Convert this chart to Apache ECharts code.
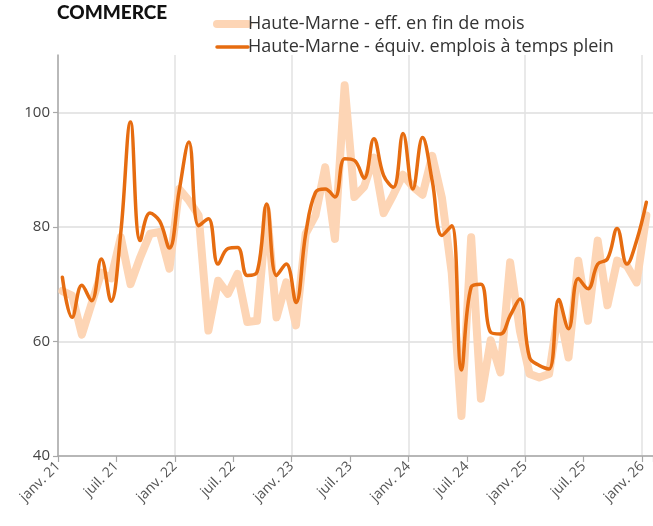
<!DOCTYPE html>
<html>
<head>
<meta charset="utf-8">
<script src="https://cdn.jsdelivr.net/npm/echarts@6/dist/echarts.min.js"></script>
<style>
html,body{margin:0;padding:0;background:#fff;}
#chart{width:653px;height:526px;}
</style>
</head>
<body>
<div id="chart"></div>
<script>
// Tick labels every 6 months (janv. 21 ... janv. 26)
const tickLabels = ['janv. 21','juil. 21','janv. 22','juil. 22','janv. 23','juil. 23','janv. 24','juil. 24','janv. 25','juil. 25','janv. 26'];
// Y tick values
const yTicks = [40, 60, 80, 100];
// Monthly values from janv. 2021 to janv. 2026 (61 months)
const seriesNames = ['Haute-Marne - eff. en fin de mois', 'Haute-Marne - équiv. emplois à temps plein'];
const effectifs = [68.8,68.0,61.2,66.6,72.0,71.0,78.2,70.0,74.7,78.8,79.1,72.7,86.6,84.6,82.0,61.9,70.6,68.3,71.8,63.4,63.6,83.0,64.2,70.3,62.8,78.8,82.0,90.4,77.9,104.7,85.2,87.0,92.1,82.4,85.6,89.1,87.0,85.6,92.4,85.0,72.0,47.0,78.2,50.0,60.2,54.6,73.8,61.9,54.3,53.7,54.3,65.7,57.2,74.1,63.6,77.6,66.3,74.1,73.2,70.3,82.0];
const equivTP = [71.2,64.2,69.8,67.1,74.4,67.0,79.0,98.3,77.6,82.4,81.0,76.3,86.3,94.8,80.2,81.4,73.5,76.2,76.4,71.5,72.1,84.0,71.5,73.5,66.8,78.8,86.0,86.6,85.2,91.9,91.6,88.5,95.4,89.0,86.9,96.3,86.6,95.6,88.0,78.5,80.2,55.0,69.5,70.0,61.6,61.3,64.5,67.4,57.2,55.8,55.2,67.3,62.2,71.0,69.2,73.5,74.4,79.7,73.5,77.6,84.3];

// month index (from 1 Jan 2021), values placed mid-month
const toPoints = arr => arr.map((v, i) => [i + 0.45, v]);

const FONT = 'Open Sans';
const chart = echarts.init(document.getElementById('chart'), null, {renderer: 'canvas'});
chart.setOption({
  animation: false,
  backgroundColor: '#fff',
  title: {
    text: 'COMMERCE',
    left: 57, top: 3, padding: 0,
    textStyle: {fontFamily: 'Lato', fontWeight: 900, fontSize: 19, color: '#111'}
  },
  legend: {
    orient: 'vertical',
    left: 213, top: 14, padding: 0,
    itemWidth: 31, itemHeight: 14, itemGap: 3,
    itemStyle: {opacity: 0},
    textStyle: {fontFamily: FONT, fontSize: 18, color: '#333', lineHeight: 20, padding: [0, 0, 0, -5]},
    data: [
      {name: seriesNames[0], lineStyle: {width: 8, cap: 'round', color: '#fdd5b5'}},
      {name: seriesNames[1], lineStyle: {width: 3.5, cap: 'round', color: '#e66c10'}}
    ]
  },
  grid: {left: 58, top: 55, bottom: 70, right: 0, outerBoundsMode: 'none'},
  xAxis: {
    type: 'value', min: 0, max: 61.13, interval: 6,
    axisLine: {show: true, lineStyle: {color: '#a8a8a8', width: 1.5}},
    axisTick: {show: true, length: 6, lineStyle: {color: '#a8a8a8', width: 1.2}},
    axisLabel: {
      rotate: 45, margin: 8,
      fontFamily: FONT, fontSize: 14, color: '#555',
      formatter: v => (v % 6 === 0 && v / 6 < tickLabels.length) ? tickLabels[v / 6] : ''
    },
    splitLine: {show: true, lineStyle: {color: ['#e2e2e2', 'rgba(0,0,0,0)'], width: 1.5}}
  },
  yAxis: {
    type: 'value', min: 40, max: 110, interval: 20,
    axisLine: {show: true, lineStyle: {color: '#a8a8a8', width: 1.5}},
    axisTick: {show: true, length: 5, customValues: yTicks, lineStyle: {color: '#a8a8a8', width: 1.2}},
    axisLabel: {margin: 8, customValues: yTicks, fontFamily: FONT, fontSize: 15, color: '#444'},
    splitLine: {show: true, lineStyle: {color: '#dedede', width: 1.5}}
  },
  series: [
    {
      name: seriesNames[0], type: 'line', data: toPoints(effectifs),
      symbol: 'none', smooth: false,
      lineStyle: {color: '#fdd5b5', width: 8, join: 'round', cap: 'round'},
      itemStyle: {color: '#fdd5b5'}, z: 2
    },
    {
      name: seriesNames[1], type: 'line', data: toPoints(equivTP),
      symbol: 'none', smooth: 0.4,
      lineStyle: {color: '#e66c10', width: 3.5, join: 'round', cap: 'round'},
      itemStyle: {color: '#e66c10'}, z: 3
    }
  ]
});
</script>
</body>
</html>
